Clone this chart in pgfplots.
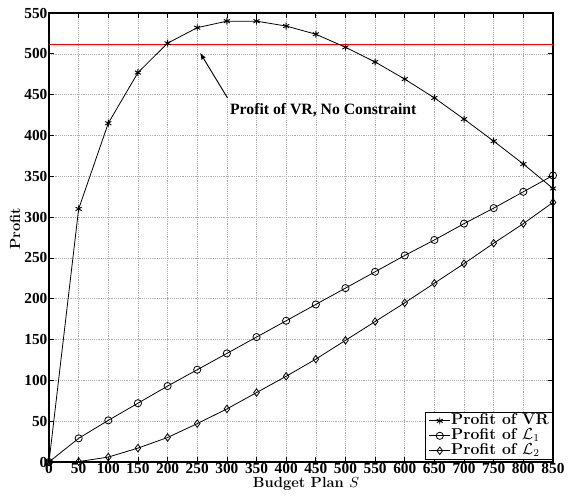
\documentclass[border=0pt]{standalone}
\usepackage{fontspec}
\usepackage{pgfplots}
\pgfplotsset{compat=1.18}
\newfontfamily\tnr{Liberation Serif}
\begin{document}
\begin{tikzpicture}
\begin{axis}[
  scale only axis,
  width=378pt, height=336.75pt,
  xmin=0, xmax=850, ymin=0, ymax=550,
  xtick={0,50,...,850}, ytick={0,50,...,550},
  tick align=inside, ticks=both,
  major tick length=3.8pt,
  tick style={black, line width=0.5pt},
  axis line style={line width=0.8pt},
  grid=major,
  major grid style={gray!65, densely dotted, line width=0.4pt},
  /pgf/number format/assume math mode=true,
  ticklabel style={font=\tnr\bfseries\fontsize{11.5}{12}\selectfont, inner sep=1pt},
  xlabel={\bfseries\fontsize{11}{12}\selectfont Budget Plan $S$},
  ylabel={\bfseries\fontsize{11}{12}\selectfont Profit},
  xlabel style={at={(axis description cs:0.51,-0.048)}, anchor=center},
  ylabel style={at={(axis description cs:-0.0675,0.519)}, anchor=center},
  legend style={at={(rel axis cs:1,0.005)}, anchor=south east, draw=black, line width=0.7pt,
    font=\bfseries\fontsize{11.8}{11.8}\selectfont, inner xsep=2.5pt, inner ysep=0.8pt, row sep=0pt,
    nodes={text height=8pt, text depth=2.6pt, inner sep=0.3pt},
    legend cell align=left},
  legend image code/.code={
    \draw[mark repeat=2,mark phase=2,#1] plot coordinates {(0pt,0pt) (8pt,0pt) (16pt,0pt)};},
]
\addplot[red, line width=0.7pt, forget plot] coordinates {(0,511) (850,511)};
\addplot[black, line width=0.6pt, mark=asterisk, mark size=2.6pt, mark options={line width=0.7pt}] coordinates {
(0,0) (50,310) (100,415) (150,477) (200,513) (250,532) (300,540) (350,540) (400,534) (450,524)
(500,508) (550,490) (600,469) (650,446) (700,420) (750,393) (800,365) (850,335)};
\addplot[black, line width=0.6pt, mark=o, mark size=2.7pt] coordinates {
(0,0) (50,29) (100,51) (150,72) (200,93) (250,113) (300,133) (350,153) (400,173) (450,193)
(500,213) (550,233) (600,253) (650,272) (700,292) (750,311) (800,331) (850,351)};
\addplot[black, line width=0.6pt, mark=diamond, mark size=2.8pt] coordinates {
(0,0) (50,0.5) (100,6) (150,17) (200,30) (250,47) (300,65) (350,85) (400,105) (450,126)
(500,149) (550,172) (600,195) (650,219) (700,243) (750,268) (800,292) (850,318)};
\legend{Profit of VR, Profit of $\mathcal{L}_1$, Profit of $\mathcal{L}_2$}
\draw[-latex, line width=0.7pt] (axis cs:301,446) -- (axis cs:255,501);
\node[anchor=base west, inner sep=0pt, font=\tnr\bfseries\fontsize{11.8}{13}\selectfont] at (axis cs:305,426) {Profit of VR, No Constraint};
\coordinate (sw) at (rel axis cs:0,0);
\coordinate (ne) at (rel axis cs:1,1);
\end{axis}
\pgfresetboundingbox
\path (sw) ++(-36.75pt,-28.5pt) rectangle ([shift={(11.25pt,9.75pt)}]ne);
\end{tikzpicture}
\end{document}
